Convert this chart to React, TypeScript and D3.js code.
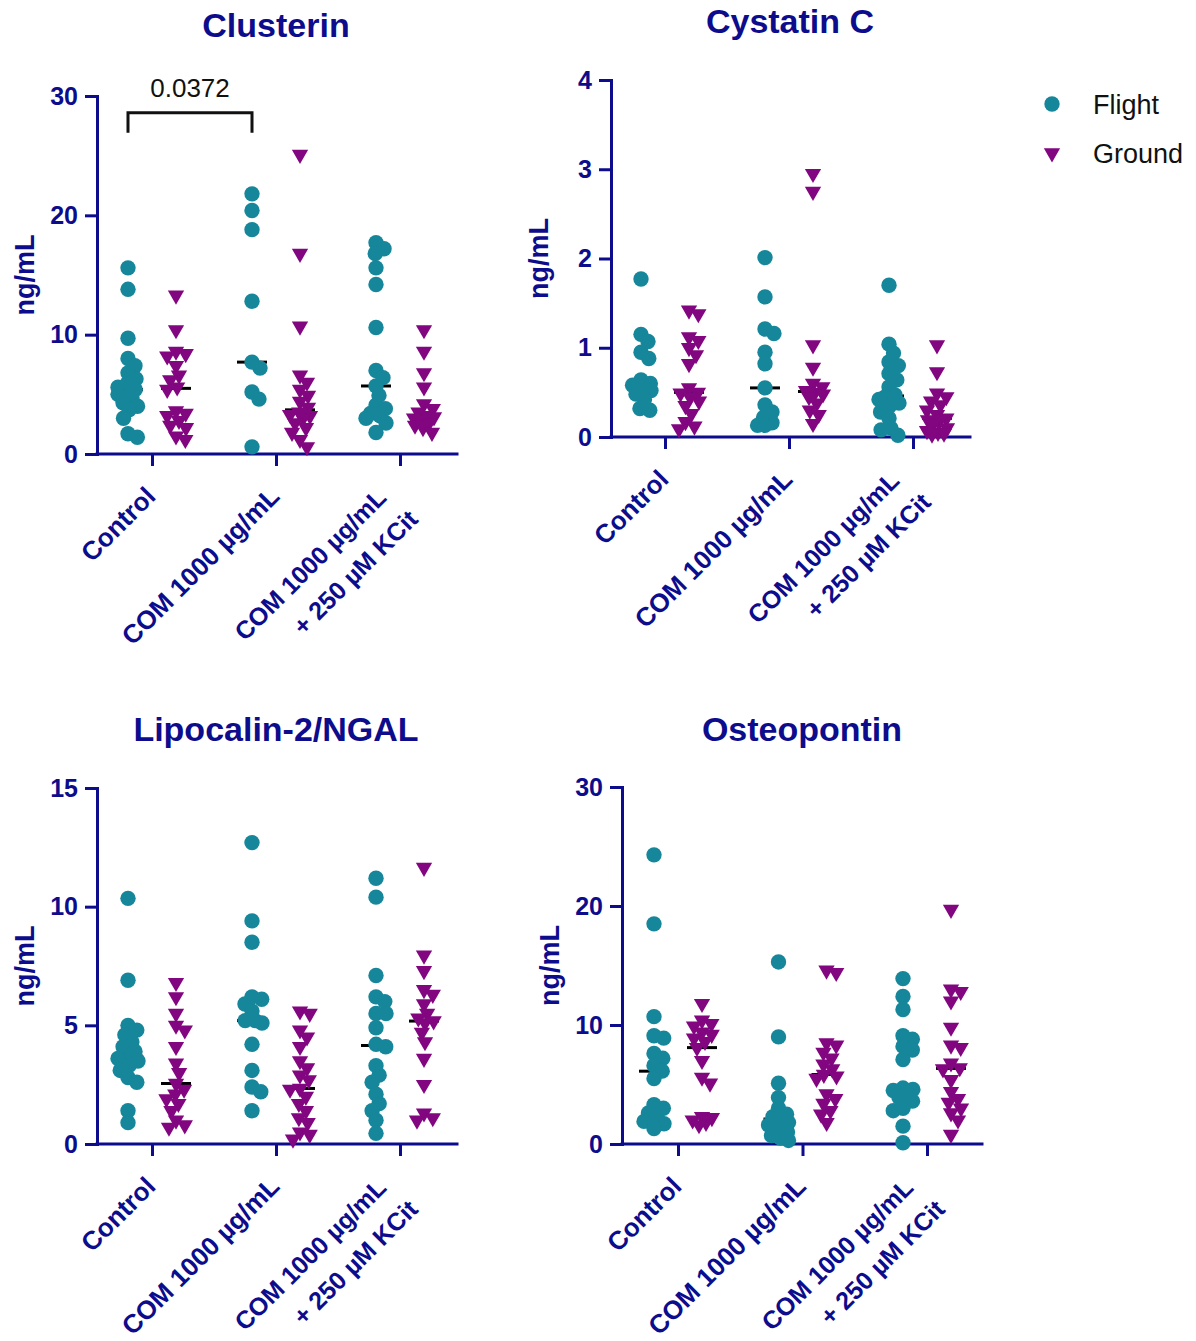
import { useEffect, useRef } from 'react';
import * as d3 from 'd3';

// groups and series
const categories = ['Control', 'COM 1000 µg/mL', 'COM 1000 µg/mL\n+ 250 µM KCit'];
const seriesNames = ['Flight', 'Ground'];

// Clusterin (ng/mL)
const clusterinFlight = [
  [15.6, 13.8, 9.7, 8.0, 7.4, 6.8, 6.3, 5.9, 5.6, 5.4, 5.2, 5.0, 4.7, 4.3, 4.0, 3.7, 3.0, 1.7, 1.4],
  [21.8, 20.4, 18.8, 12.8, 7.7, 7.2, 5.2, 4.6, 0.6],
  [17.7, 17.2, 16.8, 15.6, 14.2, 10.6, 7.0, 6.4, 5.7, 4.9, 4.1, 3.8, 3.4, 3.2, 3.0, 2.6, 1.8],
];
const clusterinGround = [
  [13.3, 10.4, 8.6, 8.4, 8.2, 7.4, 6.6, 6.2, 5.6, 5.4, 3.6, 3.4, 3.2, 2.8, 2.4, 2.2, 1.5, 1.2],
  [25.1, 16.8, 10.7, 6.6, 6.0, 5.4, 4.9, 4.4, 3.9, 3.5, 3.3, 3.2, 3.0, 2.6, 2.2, 1.8, 1.2, 0.6],
  [10.4, 8.6, 6.8, 5.6, 4.2, 3.8, 3.5, 3.2, 3.1, 3.0, 2.8, 2.6, 2.4, 2.2, 1.8],
];
const clusterinTicks = [0, 10, 20, 30];

// Cystatin C
const cystatinFlight = [
  [1.77, 1.15, 1.07, 0.95, 0.88, 0.64, 0.6, 0.58, 0.56, 0.52, 0.48, 0.42, 0.32, 0.3],
  [2.01, 1.57, 1.21, 1.16, 0.95, 0.82, 0.55, 0.36, 0.28, 0.22, 0.16, 0.13, 0.13],
  [1.7, 1.04, 0.94, 0.84, 0.8, 0.71, 0.64, 0.56, 0.47, 0.45, 0.42, 0.38, 0.34, 0.28, 0.21, 0.1, 0.08, 0.02],
];
const cystatinGround = [
  [1.42, 1.38, 1.12, 1.08, 1.0, 0.92, 0.82, 0.55, 0.5, 0.49, 0.45, 0.4, 0.35, 0.26, 0.17, 0.12, 0.09],
  [2.95, 2.75, 1.03, 0.78, 0.6, 0.56, 0.52, 0.5, 0.48, 0.45, 0.38, 0.3, 0.25, 0.15],
  [1.03, 0.73, 0.49, 0.45, 0.4, 0.36, 0.3, 0.25, 0.21, 0.19, 0.17, 0.14, 0.1, 0.07, 0.05, 0.04, 0.03],
];
const cystatinTicks = [0, 1, 2, 3, 4];

// Lipocalin-2/NGAL
const lipocalinFlight = [
  [10.35, 6.9, 5.0, 4.8, 4.6, 4.3, 4.1, 3.9, 3.7, 3.6, 3.5, 3.3, 3.1, 2.8, 2.6, 1.4, 0.9],
  [12.7, 9.4, 8.5, 6.2, 6.1, 5.9, 5.6, 5.2, 5.2, 5.1, 4.2, 3.1, 2.4, 2.2, 1.4],
  [11.2, 10.4, 7.1, 6.2, 6.0, 5.5, 5.5, 4.9, 4.2, 4.1, 3.3, 2.9, 2.6, 2.1, 1.7, 1.4, 1.0, 0.45],
];
const lipocalinGround = [
  [6.8, 6.2, 5.5, 5.0, 4.8, 4.1, 3.4, 3.0, 2.55, 2.3, 2.1, 1.9, 1.7, 1.4, 1.0, 0.8, 0.7],
  [5.6, 5.5, 4.8, 4.5, 4.1, 3.5, 3.2, 2.9, 2.7, 2.34, 2.3, 2.0, 1.7, 1.4, 1.1, 0.9, 0.5, 0.4, 0.2],
  [11.65, 7.95, 7.3, 6.5, 6.3, 5.9, 5.5, 5.3, 5.18, 5.1, 4.7, 4.3, 3.6, 2.5, 1.3, 1.1, 1.0],
];
const lipocalinTicks = [0, 5, 10, 15];

// Osteopontin
const osteopontinFlight = [
  [24.3, 18.5, 10.7, 9.1, 8.9, 7.6, 7.2, 6.6, 6.12, 5.5, 3.3, 3.0, 2.6, 2.2, 1.9, 1.7, 1.3],
  [15.3, 9.0, 5.1, 3.9, 3.0, 2.5, 2.3, 2.1, 1.8, 1.6, 1.3, 1.0, 0.7, 0.5, 0.3],
  [13.9, 12.4, 11.3, 9.1, 8.8, 8.2, 7.9, 7.1, 4.7, 4.58, 4.5, 4.3, 3.9, 3.6, 3.0, 2.8, 1.5, 0.1],
];
const osteopontinGround = [
  [11.8, 10.4, 10.1, 9.9, 9.4, 9.2, 8.9, 8.6, 8.1, 7.0, 5.6, 5.1, 2.3, 2.2, 2.0, 1.8, 1.6],
  [14.6, 14.4, 8.5, 8.3, 7.7, 7.2, 6.7, 6.3, 5.84, 5.7, 5.5, 4.2, 3.8, 3.4, 2.8, 2.5, 1.8],
  [19.7, 13.0, 12.8, 12.0, 9.8, 8.3, 8.1, 6.8, 6.4, 6.3, 5.4, 4.4, 3.8, 3.5, 3.0, 2.6, 2.0, 0.8],
];
const osteopontinTicks = [0, 10, 20, 30];

const NAVY = '#0c0c8c';
const TEAL = '#16879a';
const PURPLE = '#81067f';
const FONT = '"Liberation Sans", Arial, Helvetica, sans-serif';

const panels = [
  { title: 'Clusterin', flight: clusterinFlight, ground: clusterinGround, ticks: clusterinTicks,
    left: 97, right: 457, top: 96, bottom: 454, x0: 152, x1: 400, titleX: 276, titleY: 37 },
  { title: 'Cystatin C', flight: cystatinFlight, ground: cystatinGround, ticks: cystatinTicks,
    left: 611, right: 970, top: 80, bottom: 437, x0: 665, x1: 913, titleX: 790, titleY: 33 },
  { title: 'Lipocalin-2/NGAL', flight: lipocalinFlight, ground: lipocalinGround, ticks: lipocalinTicks,
    left: 97, right: 457, top: 788, bottom: 1144, x0: 152, x1: 400, titleX: 276, titleY: 741 },
  { title: 'Osteopontin', flight: osteopontinFlight, ground: osteopontinGround, ticks: osteopontinTicks,
    left: 622, right: 982, top: 787, bottom: 1144, x0: 678, x1: 927, titleX: 802, titleY: 741 },
];

// simple beeswarm: horizontal offsets so markers don't pile up (markers may overlap a bit)
function swarm(vals: number[], y: (v: number) => number, d: number, maxOff: number) {
  const order = vals.map((v, i) => ({ i, y: y(v) })).sort((a, b) => a.y - b.y);
  const placed: { x: number; y: number }[] = [];
  const out: number[] = new Array(vals.length).fill(0);
  for (const p of order) {
    const cands = [0];
    for (const q of placed) {
      const dy = Math.abs(q.y - p.y);
      if (dy < d) {
        const dx = Math.sqrt(d * d - dy * dy);
        cands.push(q.x + dx, q.x - dx);
      }
    }
    cands.sort((a, b) => Math.abs(a) - Math.abs(b));
    let x = cands.find((c) => Math.abs(c) <= maxOff &&
      placed.every((q) => Math.hypot(q.x - c, q.y - p.y) >= d - 0.01));
    if (x === undefined) {
      // no free slot inside the band: take the least crowded spot
      const slots = d3.range(-maxOff, maxOff + 0.1, 1);
      x = slots.reduce((best, c) => {
        const score = (s: number) => d3.min(placed, (q) => Math.hypot(q.x - s, q.y - p.y)) ?? 99;
        return score(c) > score(best) ? c : best;
      }, 0);
    }
    placed.push({ x, y: p.y });
    out[p.i] = x;
  }
  return out;
}

export default function App() {
  const ref = useRef<SVGSVGElement>(null);

  useEffect(() => {
    const svg = d3.select(ref.current);
    svg.selectAll('*').remove();

    const tri = d3.symbol(d3.symbolTriangle, 115)();

    panels.forEach((p) => {
      const g = svg.append('g');
      const y = d3.scaleLinear().domain([0, p.ticks[p.ticks.length - 1]]).range([p.bottom, p.top]);
      const x = d3.scalePoint<string>().domain(categories).range([p.x0, p.x1]);

      // title
      g.append('text')
        .attr('x', p.titleX).attr('y', p.titleY)
        .attr('text-anchor', 'middle')
        .attr('font-family', FONT).attr('font-weight', 'bold').attr('font-size', 34)
        .attr('fill', NAVY)
        .text(p.title);

      // y axis
      const ya = g.append('g')
        .attr('transform', `translate(${p.left},0)`)
        .call(d3.axisLeft(y).tickValues(p.ticks).tickFormat((d) => String(d))
          .tickSize(12).tickSizeOuter(0).tickPadding(7));
      ya.select('.domain').attr('stroke', NAVY).attr('stroke-width', 3).attr('stroke-linecap', 'square');
      ya.selectAll('.tick line').attr('stroke', NAVY).attr('stroke-width', 3);
      ya.selectAll('.tick text')
        .attr('fill', NAVY).attr('font-family', FONT).attr('font-weight', 'bold').attr('font-size', 25);

      g.append('text')
        .attr('transform', `translate(${p.left - 63},${(p.top + p.bottom) / 2}) rotate(-90)`)
        .attr('text-anchor', 'middle')
        .attr('font-family', FONT).attr('font-weight', 'bold').attr('font-size', 27)
        .attr('fill', NAVY)
        .text('ng/mL');

      // x axis
      g.append('line')
        .attr('x1', p.left).attr('x2', p.right).attr('y1', p.bottom).attr('y2', p.bottom)
        .attr('stroke', NAVY).attr('stroke-width', 3).attr('stroke-linecap', 'square');
      const xa = g.append('g')
        .attr('transform', `translate(0,${p.bottom})`)
        .call(d3.axisBottom(x).tickSize(12).tickSizeOuter(0).tickFormat(() => ''));
      xa.select('.domain').remove();
      xa.selectAll('.tick line').attr('stroke', NAVY).attr('stroke-width', 3);

      categories.forEach((c) => {
        const lines = c.split('\n');
        const multi = lines.length > 1;
        const t = g.append('text')
          .attr('transform', `translate(${(x(c) ?? 0) + 5},${p.bottom + 44}) rotate(-45)`)
          .attr('text-anchor', 'end')
          .attr('font-family', FONT).attr('font-weight', 'bold').attr('font-size', multi ? 25 : 26)
          .attr('fill', NAVY);
        lines.forEach((line, i) => {
          if (!multi) {
            t.append('tspan').attr('x', 0).attr('dy', 0).text(line);
          } else {
            t.append('tspan')
              .attr('x', i === 0 ? -13 : -6)
              .attr('dy', i === 0 ? '-0.45em' : '1.5em')
              .text(line);
          }
        });
      });

      // columns
      const cols = [
        { data: p.flight, off: -24, color: TEAL, shape: 'circle' },
        { data: p.ground, off: 24, color: PURPLE, shape: 'tri' },
      ];
      cols.forEach((col) => {
        col.data.forEach((vals, ci) => {
          const cx = (x(categories[ci]) ?? 0) + col.off;
          const med = d3.median(vals) ?? 0;
          g.append('line')
            .attr('x1', cx - 15).attr('x2', cx + 15)
            .attr('y1', y(med)).attr('y2', y(med))
            .attr('stroke', '#000').attr('stroke-width', 3);
          const dx = swarm(vals, y, 10, 10);
          vals.forEach((v, i) => {
            if (col.shape === 'circle') {
              g.append('circle')
                .attr('cx', cx + dx[i]).attr('cy', y(v)).attr('r', 7.7)
                .attr('fill', col.color);
            } else {
              g.append('path')
                .attr('d', tri)
                .attr('transform', `translate(${cx + dx[i]},${y(v)}) rotate(180)`)
                .attr('fill', col.color);
            }
          });
        });
      });

      // significance bracket (Clusterin only)
      if (p.title === 'Clusterin') {
        const xa1 = (x(categories[0]) ?? 0) - 24;
        const xa2 = (x(categories[1]) ?? 0) - 24;
        const by = y(28.6);
        g.append('path')
          .attr('d', `M${xa1},${by + 20}V${by}H${xa2}V${by + 20}`)
          .attr('fill', 'none').attr('stroke', '#111').attr('stroke-width', 3);
        g.append('text')
          .attr('x', (xa1 + xa2) / 2).attr('y', by - 16)
          .attr('text-anchor', 'middle')
          .attr('font-family', FONT).attr('font-size', 26).attr('fill', '#111')
          .text('0.0372');
      }
    });

    // legend
    const lg = svg.append('g').attr('transform', 'translate(1052,104)');
    seriesNames.forEach((s, i) => {
      const row = lg.append('g').attr('transform', `translate(0,${i * 49})`);
      if (i === 0) row.append('circle').attr('r', 7.7).attr('fill', TEAL);
      else row.append('path').attr('d', tri).attr('transform', 'rotate(180)').attr('fill', PURPLE);
      row.append('text')
        .attr('x', 41).attr('y', 10)
        .attr('font-family', FONT).attr('font-size', 27).attr('fill', '#111')
        .text(s);
    });
  }, []);

  return (
    <svg
      ref={ref}
      width={1196}
      height={1341}
      style={{ position: 'absolute', left: 0, top: 0, background: '#fff' }}
    />
  );
}
